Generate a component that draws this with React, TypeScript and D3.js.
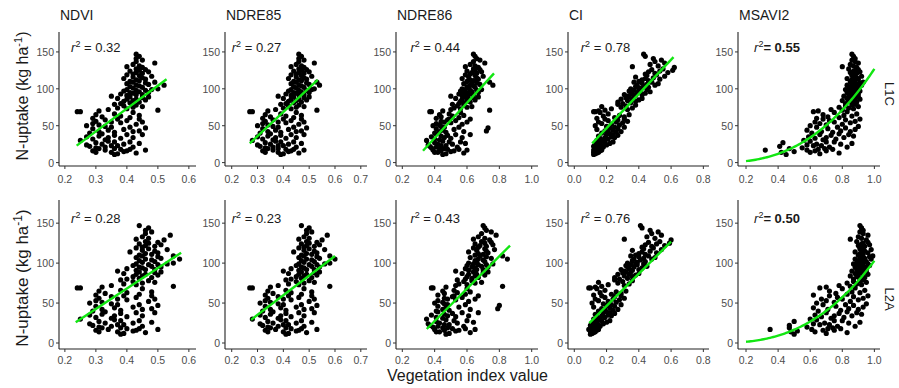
import React from "react";
import * as d3 from "d3";

// N-uptake (kg/ha) of each sample, shared by all ten panels
const nUptake = [
  11, 12, 13, 14, 14, 15, 16, 16, 17, 17, 18, 18, 19, 19,
  20, 21, 21, 22, 23, 23, 24, 25, 25, 26, 27, 28, 28, 29,
  30, 31, 32, 33, 34, 34, 35, 36, 37, 38, 38, 39,
  40, 41, 42, 42, 43, 44, 45, 46, 47, 48, 48, 49,
  50, 51, 52, 53, 54, 55, 55, 56, 57, 58, 59, 59,
  60, 61, 62, 63, 64, 65, 66, 68, 69, 69,
  70, 71, 72, 73, 74, 75, 76, 77, 78, 79,
  80, 81, 82, 83, 84, 85, 86, 86, 87, 88, 89, 89,
  90, 91, 92, 92, 93, 94, 95, 95, 96, 97, 98, 98, 99, 99,
  100, 101, 102, 103, 104, 105, 105, 106, 107, 108, 109, 109,
  110, 111, 112, 113, 114, 115, 116, 117, 118, 119,
  120, 121, 122, 123, 124, 125, 126, 127, 129,
  130, 131, 133, 135, 137, 139,
  141, 144, 147,
];

// L1C index values
const ndviL1C = [
  0.36, 0.37, 0.43, 0.35, 0.30, 0.39, 0.29, 0.40, 0.46, 0.33, 0.38, 0.41, 0.31, 0.36,
  0.30, 0.33, 0.42, 0.28, 0.37, 0.35, 0.27, 0.39, 0.32, 0.44, 0.30, 0.36, 0.41, 0.34,
  0.25, 0.33, 0.29, 0.38, 0.34, 0.42, 0.27, 0.31, 0.36, 0.45, 0.40, 0.32,
  0.28, 0.36, 0.42, 0.31, 0.44, 0.34, 0.39, 0.29, 0.46, 0.35, 0.41, 0.33,
  0.27, 0.31, 0.43, 0.29, 0.38, 0.35, 0.45, 0.30, 0.40, 0.33, 0.44, 0.37,
  0.29, 0.41, 0.32, 0.38, 0.44, 0.30, 0.36, 0.42, 0.24, 0.25,
  0.31, 0.50, 0.34, 0.40, 0.37, 0.42, 0.45, 0.39, 0.43, 0.36,
  0.38, 0.41, 0.44, 0.39, 0.42, 0.46, 0.40, 0.43, 0.37, 0.45, 0.41, 0.47,
  0.35, 0.40, 0.43, 0.45, 0.38, 0.42, 0.47, 0.41, 0.44, 0.39, 0.46, 0.43, 0.40, 0.48,
  0.50, 0.42, 0.45, 0.41, 0.44, 0.52, 0.43, 0.47, 0.40, 0.46, 0.42, 0.49,
  0.41, 0.44, 0.43, 0.46, 0.39, 0.45, 0.42, 0.48, 0.44, 0.40,
  0.42, 0.45, 0.43, 0.47, 0.41, 0.44, 0.46, 0.43, 0.45,
  0.40, 0.44, 0.42, 0.49, 0.43, 0.45,
  0.43, 0.44, 0.43,
];
const ndre85L1C = [
  0.39, 0.40, 0.46, 0.38, 0.33, 0.42, 0.32, 0.43, 0.48, 0.36, 0.41, 0.44, 0.34, 0.38,
  0.33, 0.36, 0.45, 0.31, 0.40, 0.38, 0.30, 0.42, 0.35, 0.47, 0.33, 0.39, 0.44, 0.37,
  0.28, 0.36, 0.32, 0.41, 0.37, 0.45, 0.30, 0.34, 0.39, 0.48, 0.43, 0.35,
  0.31, 0.39, 0.45, 0.34, 0.47, 0.37, 0.42, 0.32, 0.49, 0.38, 0.44, 0.36,
  0.30, 0.34, 0.46, 0.32, 0.41, 0.38, 0.48, 0.33, 0.43, 0.36, 0.47, 0.40,
  0.32, 0.44, 0.35, 0.41, 0.47, 0.33, 0.39, 0.45, 0.27, 0.28,
  0.34, 0.53, 0.37, 0.43, 0.40, 0.45, 0.48, 0.42, 0.46, 0.39,
  0.41, 0.44, 0.47, 0.42, 0.45, 0.49, 0.43, 0.46, 0.40, 0.48, 0.44, 0.50,
  0.38, 0.43, 0.46, 0.48, 0.41, 0.45, 0.50, 0.44, 0.47, 0.42, 0.49, 0.46, 0.43, 0.51,
  0.52, 0.45, 0.48, 0.44, 0.47, 0.54, 0.46, 0.50, 0.43, 0.49, 0.45, 0.53,
  0.44, 0.47, 0.46, 0.49, 0.42, 0.48, 0.45, 0.51, 0.47, 0.43,
  0.45, 0.48, 0.46, 0.50, 0.44, 0.47, 0.49, 0.46, 0.48,
  0.43, 0.47, 0.45, 0.52, 0.46, 0.48,
  0.46, 0.47, 0.46,
];
const ndre86L1C = [
  0.45, 0.47, 0.58, 0.42, 0.40, 0.50, 0.44, 0.52, 0.60, 0.39, 0.48, 0.55, 0.43, 0.46,
  0.38, 0.41, 0.54, 0.37, 0.47, 0.44, 0.36, 0.51, 0.42, 0.59, 0.40, 0.49, 0.56, 0.45,
  0.35, 0.43, 0.40, 0.50, 0.46, 0.57, 0.38, 0.44, 0.48, 0.62, 0.53, 0.41,
  0.40, 0.47, 0.58, 0.43, 0.72, 0.45, 0.52, 0.41, 0.73, 0.46, 0.55, 0.44,
  0.39, 0.43, 0.57, 0.41, 0.50, 0.46, 0.60, 0.44, 0.53, 0.48, 0.62, 0.49,
  0.41, 0.55, 0.44, 0.51, 0.58, 0.43, 0.49, 0.56, 0.37, 0.38,
  0.45, 0.74, 0.50, 0.56, 0.52, 0.60, 0.63, 0.54, 0.58, 0.51,
  0.55, 0.58, 0.62, 0.56, 0.60, 0.65, 0.57, 0.61, 0.53, 0.64, 0.59, 0.67,
  0.50, 0.57, 0.61, 0.64, 0.55, 0.60, 0.67, 0.58, 0.63, 0.56, 0.66, 0.62, 0.59, 0.69,
  0.57, 0.61, 0.65, 0.60, 0.64, 0.76, 0.62, 0.68, 0.58, 0.66, 0.63, 0.74,
  0.60, 0.64, 0.62, 0.67, 0.57, 0.66, 0.61, 0.70, 0.65, 0.59,
  0.62, 0.66, 0.63, 0.69, 0.60, 0.65, 0.68, 0.64, 0.67,
  0.59, 0.65, 0.62, 0.71, 0.64, 0.68,
  0.66, 0.65, 0.64,
];
const ciL1C = [
  0.12, 0.13, 0.14, 0.12, 0.15, 0.13, 0.16, 0.14, 0.12, 0.17, 0.13, 0.15, 0.14, 0.16,
  0.13, 0.15, 0.18, 0.12, 0.17, 0.14, 0.20, 0.16, 0.13, 0.22, 0.15, 0.19, 0.24, 0.17,
  0.14, 0.18, 0.21, 0.16, 0.25, 0.19, 0.23, 0.15, 0.27, 0.20, 0.24, 0.22,
  0.17, 0.26, 0.21, 0.29, 0.19, 0.24, 0.14, 0.27, 0.22, 0.31, 0.25, 0.20,
  0.13, 0.28, 0.23, 0.17, 0.30, 0.26, 0.15, 0.33, 0.21, 0.27, 0.19, 0.31,
  0.14, 0.25, 0.31, 0.18, 0.28, 0.34, 0.21, 0.16, 0.12, 0.13,
  0.15, 0.19, 0.33, 0.23, 0.36, 0.29, 0.17, 0.32, 0.38, 0.27,
  0.30, 0.35, 0.27, 0.38, 0.33, 0.40, 0.29, 0.36, 0.42, 0.32, 0.37, 0.34,
  0.33, 0.38, 0.31, 0.42, 0.36, 0.44, 0.35, 0.39, 0.47, 0.34, 0.41, 0.37, 0.45, 0.40,
  0.35, 0.41, 0.46, 0.38, 0.43, 0.50, 0.39, 0.45, 0.52, 0.42, 0.37, 0.48,
  0.40, 0.46, 0.42, 0.53, 0.44, 0.49, 0.38, 0.56, 0.45, 0.51,
  0.44, 0.50, 0.58, 0.46, 0.53, 0.61, 0.48, 0.55, 0.62,
  0.36, 0.52, 0.47, 0.56, 0.50, 0.54,
  0.49, 0.44, 0.43,
];
const msavi2L1C = [
  0.45, 0.66, 0.78, 0.60, 0.42, 0.50, 0.63, 0.70, 0.32, 0.58, 0.74, 0.65, 0.47, 0.69,
  0.55, 0.72, 0.83, 0.41, 0.62, 0.67, 0.58, 0.79, 0.64, 0.86, 0.43, 0.75, 0.70, 0.60,
  0.56, 0.68, 0.76, 0.63, 0.81, 0.70, 0.59, 0.87, 0.73, 0.66, 0.84, 0.78,
  0.61, 0.74, 0.85, 0.67, 0.79, 0.58, 0.88, 0.71, 0.82, 0.64, 0.77, 0.90,
  0.60, 0.70, 0.80, 0.66, 0.85, 0.75, 0.63, 0.88, 0.72, 0.82, 0.68, 0.91,
  0.64, 0.78, 0.71, 0.86, 0.81, 0.68, 0.89, 0.75, 0.83, 0.62,
  0.65, 0.80, 0.73, 0.87, 0.84, 0.78, 0.90, 0.82, 0.86, 0.88,
  0.82, 0.86, 0.89, 0.84, 0.80, 0.88, 0.85, 0.91, 0.83, 0.87, 0.90, 0.86,
  0.81, 0.85, 0.88, 0.84, 0.90, 0.86, 0.83, 0.89, 0.87, 0.91, 0.85, 0.88, 0.82, 0.90,
  0.84, 0.87, 0.90, 0.85, 0.88, 0.92, 0.83, 0.89, 0.86, 0.91, 0.87, 0.93,
  0.85, 0.88, 0.86, 0.90, 0.83, 0.89, 0.87, 0.92, 0.86, 0.88,
  0.86, 0.89, 0.85, 0.91, 0.87, 0.88, 0.90, 0.84, 0.89,
  0.80, 0.87, 0.85, 0.90, 0.88, 0.86,
  0.88, 0.87, 0.86,
];

// L2A index values
const ndviL2A = [
  0.38, 0.39, 0.46, 0.37, 0.31, 0.42, 0.30, 0.43, 0.50, 0.34, 0.40, 0.44, 0.32, 0.38,
  0.31, 0.35, 0.45, 0.29, 0.39, 0.37, 0.28, 0.42, 0.33, 0.48, 0.31, 0.38, 0.44, 0.36,
  0.25, 0.35, 0.30, 0.40, 0.36, 0.45, 0.28, 0.32, 0.38, 0.49, 0.43, 0.33,
  0.29, 0.38, 0.45, 0.32, 0.48, 0.36, 0.42, 0.30, 0.50, 0.37, 0.44, 0.35,
  0.28, 0.32, 0.47, 0.30, 0.40, 0.37, 0.49, 0.31, 0.43, 0.35, 0.48, 0.39,
  0.30, 0.44, 0.33, 0.40, 0.48, 0.31, 0.38, 0.45, 0.24, 0.25,
  0.32, 0.55, 0.35, 0.43, 0.39, 0.45, 0.49, 0.42, 0.47, 0.38,
  0.40, 0.44, 0.48, 0.42, 0.45, 0.50, 0.43, 0.46, 0.39, 0.49, 0.44, 0.51,
  0.37, 0.43, 0.46, 0.49, 0.40, 0.45, 0.51, 0.44, 0.48, 0.42, 0.50, 0.47, 0.43, 0.53,
  0.55, 0.45, 0.49, 0.44, 0.48, 0.57, 0.46, 0.51, 0.43, 0.50, 0.45, 0.55,
  0.44, 0.48, 0.46, 0.50, 0.41, 0.49, 0.45, 0.53, 0.47, 0.43,
  0.45, 0.49, 0.46, 0.51, 0.44, 0.47, 0.50, 0.46, 0.52,
  0.43, 0.47, 0.45, 0.54, 0.46, 0.48,
  0.46, 0.47, 0.44,
];
const ndre85L2A = [
  0.41, 0.42, 0.49, 0.40, 0.34, 0.45, 0.33, 0.46, 0.53, 0.37, 0.43, 0.47, 0.35, 0.41,
  0.34, 0.38, 0.48, 0.32, 0.42, 0.40, 0.31, 0.45, 0.36, 0.51, 0.34, 0.41, 0.47, 0.39,
  0.28, 0.38, 0.33, 0.43, 0.39, 0.48, 0.31, 0.35, 0.41, 0.52, 0.46, 0.36,
  0.32, 0.41, 0.48, 0.35, 0.51, 0.39, 0.45, 0.33, 0.53, 0.40, 0.47, 0.38,
  0.31, 0.35, 0.50, 0.33, 0.43, 0.40, 0.52, 0.34, 0.46, 0.38, 0.51, 0.42,
  0.33, 0.47, 0.36, 0.43, 0.51, 0.34, 0.41, 0.48, 0.27, 0.28,
  0.35, 0.58, 0.38, 0.46, 0.42, 0.48, 0.52, 0.45, 0.50, 0.41,
  0.43, 0.47, 0.51, 0.45, 0.48, 0.53, 0.46, 0.49, 0.42, 0.52, 0.47, 0.54,
  0.40, 0.46, 0.49, 0.52, 0.43, 0.48, 0.54, 0.47, 0.51, 0.45, 0.53, 0.50, 0.46, 0.56,
  0.58, 0.48, 0.52, 0.47, 0.51, 0.60, 0.49, 0.54, 0.46, 0.53, 0.48, 0.58,
  0.47, 0.51, 0.49, 0.53, 0.44, 0.52, 0.48, 0.56, 0.50, 0.46,
  0.48, 0.52, 0.49, 0.54, 0.47, 0.50, 0.53, 0.49, 0.55,
  0.46, 0.50, 0.48, 0.57, 0.49, 0.51,
  0.49, 0.50, 0.47,
];
const ndre86L2A = [
  0.47, 0.49, 0.62, 0.43, 0.41, 0.53, 0.46, 0.55, 0.65, 0.40, 0.51, 0.59, 0.45, 0.48,
  0.39, 0.42, 0.58, 0.37, 0.49, 0.46, 0.36, 0.54, 0.43, 0.64, 0.41, 0.52, 0.60, 0.47,
  0.35, 0.45, 0.41, 0.53, 0.48, 0.61, 0.38, 0.46, 0.51, 0.67, 0.57, 0.42,
  0.41, 0.49, 0.62, 0.45, 0.79, 0.47, 0.55, 0.42, 0.80, 0.48, 0.59, 0.46,
  0.40, 0.45, 0.61, 0.42, 0.53, 0.48, 0.65, 0.46, 0.57, 0.51, 0.67, 0.52,
  0.42, 0.59, 0.46, 0.54, 0.62, 0.45, 0.52, 0.60, 0.38, 0.39,
  0.47, 0.82, 0.53, 0.60, 0.55, 0.65, 0.69, 0.58, 0.63, 0.54,
  0.59, 0.63, 0.67, 0.60, 0.65, 0.71, 0.61, 0.66, 0.57, 0.70, 0.64, 0.73,
  0.53, 0.61, 0.66, 0.70, 0.59, 0.65, 0.73, 0.63, 0.69, 0.60, 0.72, 0.67, 0.64, 0.76,
  0.61, 0.66, 0.71, 0.65, 0.70, 0.85, 0.67, 0.75, 0.62, 0.72, 0.68, 0.82,
  0.65, 0.70, 0.67, 0.73, 0.61, 0.72, 0.66, 0.77, 0.71, 0.64,
  0.67, 0.72, 0.68, 0.76, 0.65, 0.71, 0.75, 0.69, 0.74,
  0.64, 0.71, 0.67, 0.78, 0.69, 0.75,
  0.72, 0.71, 0.70,
];
const ciL2A = [
  0.10, 0.11, 0.12, 0.10, 0.13, 0.11, 0.14, 0.12, 0.09, 0.15, 0.11, 0.13, 0.12, 0.14,
  0.11, 0.13, 0.16, 0.10, 0.15, 0.12, 0.18, 0.14, 0.11, 0.20, 0.13, 0.17, 0.22, 0.15,
  0.12, 0.16, 0.19, 0.14, 0.23, 0.17, 0.21, 0.13, 0.25, 0.18, 0.22, 0.20,
  0.15, 0.24, 0.19, 0.27, 0.17, 0.22, 0.12, 0.25, 0.20, 0.29, 0.23, 0.18,
  0.11, 0.26, 0.21, 0.15, 0.28, 0.24, 0.13, 0.31, 0.19, 0.25, 0.17, 0.29,
  0.12, 0.23, 0.29, 0.16, 0.26, 0.32, 0.19, 0.14, 0.09, 0.10,
  0.13, 0.17, 0.31, 0.21, 0.34, 0.27, 0.15, 0.30, 0.36, 0.25,
  0.28, 0.33, 0.25, 0.36, 0.31, 0.38, 0.27, 0.34, 0.40, 0.30, 0.35, 0.32,
  0.31, 0.36, 0.29, 0.40, 0.34, 0.42, 0.33, 0.37, 0.45, 0.32, 0.39, 0.35, 0.43, 0.38,
  0.33, 0.39, 0.44, 0.36, 0.41, 0.48, 0.37, 0.43, 0.50, 0.40, 0.35, 0.46,
  0.38, 0.44, 0.40, 0.51, 0.42, 0.47, 0.36, 0.54, 0.43, 0.49,
  0.42, 0.48, 0.56, 0.44, 0.51, 0.59, 0.46, 0.53, 0.60,
  0.31, 0.50, 0.45, 0.54, 0.48, 0.52,
  0.47, 0.42, 0.41,
];
const msavi2L2A = [
  0.50, 0.70, 0.83, 0.63, 0.48, 0.52, 0.68, 0.75, 0.35, 0.61, 0.79, 0.71, 0.47, 0.74,
  0.58, 0.77, 0.88, 0.47, 0.66, 0.72, 0.62, 0.84, 0.69, 0.91, 0.50, 0.80, 0.75, 0.64,
  0.60, 0.73, 0.81, 0.67, 0.86, 0.75, 0.63, 0.92, 0.78, 0.70, 0.89, 0.83,
  0.65, 0.79, 0.90, 0.71, 0.84, 0.62, 0.93, 0.76, 0.87, 0.68, 0.82, 0.95,
  0.64, 0.75, 0.85, 0.70, 0.90, 0.80, 0.67, 0.93, 0.77, 0.87, 0.72, 0.96,
  0.62, 0.83, 0.76, 0.91, 0.86, 0.72, 0.94, 0.80, 0.88, 0.66,
  0.70, 0.85, 0.78, 0.92, 0.89, 0.83, 0.95, 0.87, 0.91, 0.93,
  0.87, 0.91, 0.94, 0.89, 0.85, 0.93, 0.90, 0.96, 0.88, 0.92, 0.95, 0.91,
  0.86, 0.90, 0.93, 0.89, 0.95, 0.91, 0.88, 0.94, 0.92, 0.97, 0.90, 0.93, 0.87, 0.96,
  0.89, 0.92, 0.95, 0.90, 0.93, 0.98, 0.88, 0.94, 0.91, 0.97, 0.92, 0.99,
  0.90, 0.93, 0.91, 0.96, 0.88, 0.94, 0.92, 0.98, 0.91, 0.93,
  0.91, 0.94, 0.90, 0.97, 0.92, 0.93, 0.96, 0.89, 0.95,
  0.85, 0.92, 0.90, 0.96, 0.93, 0.91,
  0.93, 0.92, 0.91,
];

const indexNames = ["NDVI", "NDRE85", "NDRE86", "CI", "MSAVI2"];
const levelNames = ["L1C", "L2A"];
const xTicks = [
  [0.2, 0.3, 0.4, 0.5, 0.6],
  [0.2, 0.3, 0.4, 0.5, 0.6, 0.7],
  [0.2, 0.4, 0.6, 0.8, 1.0],
  [0.0, 0.2, 0.4, 0.6, 0.8],
  [0.2, 0.4, 0.6, 0.8, 1.0],
];
const yTicks = [0, 50, 100, 150];
const r2L1C = ["0.32", "0.27", "0.44", "0.78", "0.55"];
const r2L2A = ["0.28", "0.23", "0.43", "0.76", "0.50"];
// linear fits [x0, y0, x1, y1] for the first four indices
const fitL1C = [
  [0.238, 23, 0.528, 113],
  [0.27, 26, 0.533, 112],
  [0.328, 16, 0.767, 121],
  [0.111, 26, 0.615, 143],
];
const fitL2A = [
  [0.235, 26, 0.575, 113],
  [0.275, 29, 0.6, 109],
  [0.351, 17.5, 0.866, 122],
  [0.093, 25, 0.6, 127],
];
// MSAVI2 power fit y = a * x^b over [0.2, 1]
const powerFit = [
  [127, 2.58],
  [103, 2.63],
];

const pointsL1C = [ndviL1C, ndre85L1C, ndre86L1C, ciL1C, msavi2L1C];
const pointsL2A = [ndviL2A, ndre85L2A, ndre86L2A, ciL2A, msavi2L2A];

// layout
const W = 899;
const H = 388;
const panelLeft = [59, 225, 396, 568, 738];
const panelRight = [196, 367, 538, 709, 880];
const xLimits = [
  [0.181, 0.623],
  [0.174, 0.724],
  [0.161, 1.039],
  [-0.039, 0.835],
  [0.15, 1.035],
];
const rowTop = [32, 200];
const rowBottom = [166, 349];
const yLimits = [
  [-4.6, 177],
  [-7.5, 179],
];
const xLabelOffset = [13, 11];
const r2LabelX = [0.22, 0.2, 0.25, 0.04, 0.25];
const stripY = [94, 299];
const yTitleY = [96, 278];
const font = "'Liberation Sans', Arial, Helvetica, sans-serif";
const green = "#12e612";

function Panel({ row, col }) {
  const xs = d3.scaleLinear().domain(xLimits[col]).range([panelLeft[col], panelRight[col]]);
  const ys = d3.scaleLinear().domain(yLimits[row]).range([rowBottom[row], rowTop[row]]);
  const xvals = (row === 0 ? pointsL1C : pointsL2A)[col];
  const pts = nUptake
    .map((y, i) => [xvals[i], y])
    .filter((d) => d[0] !== undefined);
  const r2 = (row === 0 ? r2L1C : r2L2A)[col];
  const left = panelLeft[col];
  const bottom = rowBottom[row];

  let fitPath = "";
  if (col < 4) {
    const f = (row === 0 ? fitL1C : fitL2A)[col];
    fitPath = `M${xs(f[0])},${ys(f[1])}L${xs(f[2])},${ys(f[3])}`;
  } else {
    const [a, b] = powerFit[row];
    const line = d3
      .line()
      .x((x) => xs(x))
      .y((x) => ys(a * Math.pow(x, b)));
    fitPath = line(d3.range(0.2, 1.0001, 0.01));
  }

  return (
    <g>
      {/* axes */}
      <line x1={left} x2={left} y1={rowTop[row]} y2={bottom} stroke="#222" strokeWidth={1.1} />
      <line x1={left} x2={panelRight[col]} y1={bottom} y2={bottom} stroke="#222" strokeWidth={1.1} />
      {yTicks.map((t) => (
        <g key={"y" + t}>
          <line x1={left - 3} x2={left} y1={ys(t)} y2={ys(t)} stroke="#333" strokeWidth={1} />
          <text
            x={left - 5}
            y={ys(t)}
            textAnchor="end"
            dominantBaseline="central"
            fontSize={10.5}
            fill="#4d4d4d"
          >
            {t}
          </text>
        </g>
      ))}
      {xTicks[col].map((t) => (
        <g key={"x" + t}>
          <line x1={xs(t)} x2={xs(t)} y1={bottom} y2={bottom + 3} stroke="#333" strokeWidth={1} />
          <text
            x={xs(t)}
            y={bottom + xLabelOffset[row]}
            textAnchor="middle"
            dominantBaseline="central"
            fontSize={10.5}
            fill="#4d4d4d"
          >
            {t.toFixed(1)}
          </text>
        </g>
      ))}
      {/* points */}
      {pts.map((d, i) => (
        <circle key={i} cx={xs(d[0])} cy={ys(d[1])} r={2.6} fill="#000" />
      ))}
      {/* fit */}
      <path d={fitPath} fill="none" stroke={green} strokeWidth={2.4} />
      {/* r2 label */}
      {col < 4 ? (
        <text x={xs(r2LabelX[col])} y={ys(150)} fontSize={13} fill="#1a1a1a">
          <tspan fontStyle="italic">r</tspan>
          <tspan dy={-5} fontSize={9}>2</tspan>
          <tspan dy={5}>{" = " + r2}</tspan>
        </text>
      ) : (
        <text x={xs(r2LabelX[col])} y={ys(150)} fontSize={13} fill="#1a1a1a">
          <tspan fontStyle="italic">r</tspan>
          <tspan dy={-5} fontSize={9}>2</tspan>
          <tspan dy={5} fontWeight="bold">{"= " + r2}</tspan>
        </text>
      )}
    </g>
  );
}

export default function App() {
  return (
    <svg
      width={W}
      height={H}
      style={{ position: "absolute", left: 0, top: 0, background: "#fff" }}
      fontFamily={font}
    >
      <rect x={0} y={0} width={W} height={H} fill="#fff" />
      {indexNames.map((name, c) => (
        <text key={name} x={panelLeft[c] + 1} y={20} fontSize={14} fill="#1a1a1a">
          {name}
        </text>
      ))}
      {levelNames.map((lvl, r) => (
        <g key={lvl}>
          {indexNames.map((name, c) => (
            <Panel key={name} row={r} col={c} />
          ))}
          <text
            transform={`translate(889,${stripY[r]}) rotate(90)`}
            textAnchor="middle"
            dominantBaseline="central"
            fontSize={13}
            fill="#1a1a1a"
          >
            {lvl}
          </text>
          <text
            transform={`translate(28,${yTitleY[r]}) rotate(-90)`}
            textAnchor="middle"
            fontSize={r === 0 ? 16 : 17}
            fill="#1a1a1a"
          >
            N-uptake (kg ha
            <tspan dy={-6} fontSize={r === 0 ? 11 : 12}>-1</tspan>
            <tspan dy={6}>)</tspan>
          </text>
        </g>
      ))}
      <text x={467.5} y={381} textAnchor="middle" fontSize={16} fill="#1a1a1a">
        Vegetation index value
      </text>
    </svg>
  );
}
